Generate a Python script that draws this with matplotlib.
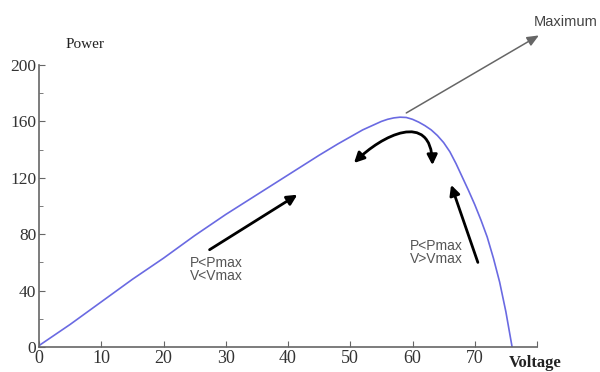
import matplotlib
matplotlib.use("Agg")
import matplotlib.pyplot as plt
from matplotlib.patches import FancyArrowPatch
from matplotlib.path import Path

# Data
voltage = [0, 5, 10, 15, 20, 25, 30, 35, 40, 45, 48, 50, 52, 54, 55, 56, 57, 58, 59, 60,
           61, 62, 63, 64, 65, 66, 67, 68, 69, 70, 71, 72, 73, 74, 75, 76]
power = [1, 16, 32, 48, 63, 79, 94, 108, 122, 136, 144, 149, 154, 158, 160, 161.5, 162.5,
         163, 162.8, 161.5, 159.5, 157, 154, 150, 145, 138.5, 130, 120.5, 111, 101, 90,
         78, 63, 46, 25, 0]

x_ticks = [0, 10, 20, 30, 40, 50, 60, 70, 80]
x_tick_labels = ["0", "10", "20", "30", "40", "50", "60", "70", ""]
y_ticks = [0, 40, 80, 120, 160, 200]
y_minor = [20, 60, 100, 140, 180]

fig = plt.figure(figsize=(6.0, 3.72), dpi=100)
ax = fig.add_axes([0.065, 0.0672, 0.83, 0.758])
ax.plot(voltage, power, color="#6a6ae2", lw=1.2, solid_joinstyle="round")
ax.set_xlim(0, 80)
ax.set_ylim(0, 200)

for s in ["top", "right"]:
    ax.spines[s].set_visible(False)
for s in ["left", "bottom"]:
    ax.spines[s].set_color("#666666")
    ax.spines[s].set_linewidth(1.2)

serif = "Liberation Serif"
ax.set_xticks(x_ticks)
ax.set_xticklabels(x_tick_labels, fontfamily=serif, fontsize=13, color="#333333")
ax.set_yticks(y_ticks)
ax.set_yticklabels([str(v) for v in y_ticks], fontfamily=serif, fontsize=12.5, color="#333333")
ax.set_yticks(y_minor, minor=True)
ax.tick_params(axis="both", which="major", direction="in", length=4, color="#666666", pad=2)
ax.tick_params(axis="y", which="minor", direction="in", length=3, color="#666666")

fig.text(85 / 600, 1 - 45 / 372, "Power", fontfamily=serif, fontsize=11,
         ha="center", va="center", color="#222222")
fig.text(535 / 600, 1 - 363 / 372, "Voltage", fontfamily=serif, fontsize=12,
         ha="center", va="center", color="#222222", fontweight="bold")

sans = "Liberation Sans"
ax.text(28.5, 55, "P<Pmax\nV<Vmax", fontfamily=sans, fontsize=10, color="#555555",
        ha="center", va="center", linespacing=0.95)
ax.text(63.8, 67, "P<Pmax\nV>Vmax", fontfamily=sans, fontsize=10, color="#555555",
        ha="center", va="center", linespacing=0.95)

# Arrows
a1 = FancyArrowPatch((27.4, 69), (41.5, 108), arrowstyle="-|>,head_length=6,head_width=3",
                     color="black", lw=2, mutation_scale=1, shrinkA=0, shrinkB=0)
ax.add_patch(a1)
a3 = FancyArrowPatch((70.5, 60), (66.2, 115), arrowstyle="-|>,head_length=6,head_width=3",
                     color="black", lw=2, mutation_scale=1, shrinkA=0, shrinkB=0)
ax.add_patch(a3)
verts = [(50.6, 130.5), (55, 150), (63, 168), (63.2, 129)]
codes = [Path.MOVETO, Path.CURVE4, Path.CURVE4, Path.CURVE4]
a2 = FancyArrowPatch(path=Path(verts, codes), arrowstyle="<|-|>,head_length=6,head_width=3",
                     color="black", lw=2, mutation_scale=1, shrinkA=0, shrinkB=0)
ax.add_patch(a2)
a4 = FancyArrowPatch((59, 166), (80.3, 221), arrowstyle="-|>,head_length=7,head_width=3",
                     color="#666666", lw=1.1, mutation_scale=1, shrinkA=0, shrinkB=0,
                     clip_on=False)
ax.add_patch(a4)
fig.text(566 / 600, 1 - 22 / 372, "Maximum", fontfamily=sans, fontsize=10.5, color="#444444",
         ha="center", va="center")

fig.savefig("out.png", dpi=100)
